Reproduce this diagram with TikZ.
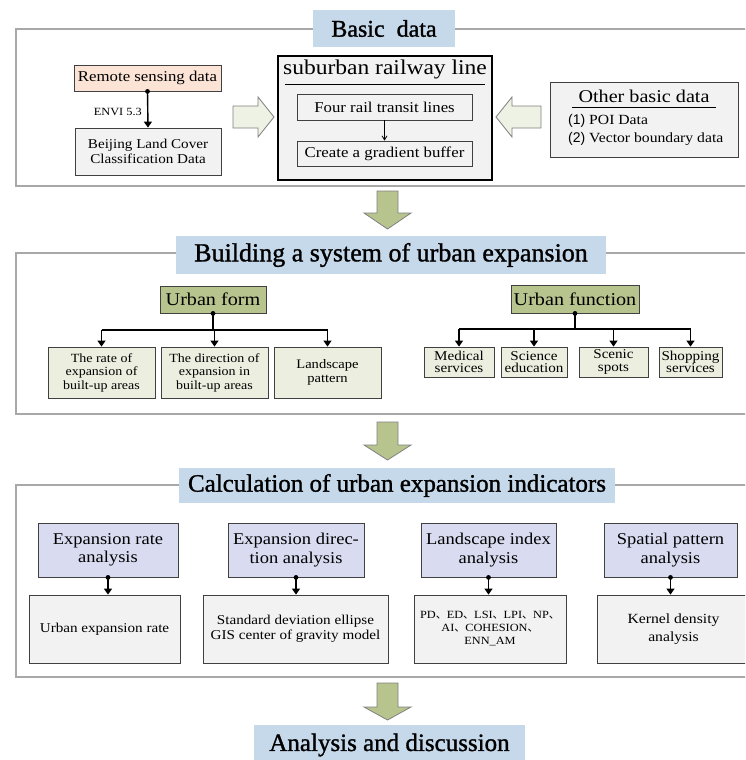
\documentclass[tikz,border=0pt]{standalone}
\usepackage{fontspec}
\setmainfont{Liberation Serif}[FakeStretch=1.12]
\newfontfamily\tfont{Liberation Serif}[FakeBold=1.2]
\newfontfamily\cjk{Noto Sans CJK SC}
\newfontfamily\nsans{Liberation Sans}
\usetikzlibrary{arrows.meta}
\definecolor{titleblue}{HTML}{C6D9EB}
\definecolor{peach}{HTML}{FBE4D5}
\definecolor{boxgray}{HTML}{F2F2F2}
\definecolor{olive}{HTML}{B7C48E}
\definecolor{olivelight}{HTML}{ECEFE0}
\definecolor{hollowfill}{HTML}{EEF2E4}
\definecolor{lavender}{HTML}{D9DCF0}
\definecolor{framegray}{HTML}{A8A8A8}
\definecolor{edge}{HTML}{404040}
\newcommand{\fsz}[2]{\fontsize{#1pt}{#2pt}\selectfont}
\newcommand{\rbox}[7]{\node[#6, minimum width={(#4-#2)*1pt}, minimum height={(#5-#3)*1pt}] (#1) at ({(#2+#4)/2},{(#3+#5)/2}) {#7};}
\begin{document}
\begin{tikzpicture}[x=1pt,y=-1pt,
  frame/.style={draw=framegray, line width=2.6pt},
  titlebox/.style={fill=titleblue, inner sep=0pt, align=center},
  plainbox/.style={draw=edge, line width=0.8pt, fill=boxgray, inner sep=0pt, align=center},
  peachbox/.style={plainbox, fill=peach},
  olivebox/.style={plainbox, fill=olive},
  olivelightbox/.style={plainbox, fill=olivelight},
  lavbox/.style={plainbox, fill=lavender},
  arr/.style={line width=1.4pt, -{Triangle[length=6pt,width=8pt]}},
  thinarr/.style={line width=0.8pt, -{Straight Barb[length=4pt,width=5pt]}},
  treeline/.style={line width=1.4pt},
  bigarrow/.style={draw=gray, line width=0.8pt, fill=olive, line join=miter},
  hollowarrow/.style={draw=gray, line width=0.8pt, fill=hollowfill, line join=miter},
  lbl/.style={inner sep=0pt, align=left}
]
\clip (0,0) rectangle (745,760);
\fill[white] (0,0) rectangle (745,760);

% ---------------- frames ----------------
\draw[frame] (760,29) -| (16,186) -- (760,186);
\draw[frame] (760,253) -| (16,414) -- (760,414);
\draw[frame] (760,485) -| (16,677) -- (760,677);

% ---------------- section 1 ----------------
\rbox{t1}{313}{10}{455}{47}{titlebox, font=\tfont\fsz{24}{26}}{Basic~~data}
\rbox{remote}{74}{65}{221}{91}{peachbox, font=\fsz{15}{17}}{Remote sensing data}
\rbox{beijing}{75}{128}{221}{175}{plainbox, font=\fsz{13.5}{15.5}}{Beijing Land Cover\\Classification Data}
\fill (remote.south) circle (2.4pt);
\draw[arr] (remote.south) -- (beijing.north);
\node[lbl, anchor=east, font=\fsz{11}{13}] (envi) at (142,112) {ENVI 5.3};

\draw[hollowarrow] (233,106) -- (258,106) -- (258,97) -- (274,117) -- (258,137) -- (258,128) -- (233,128) -- cycle;

\rbox{sub}{278}{56}{492}{180}{plainbox, line width=1.1pt, draw=black}{}
\node[inner sep=0pt, font=\fsz{21}{23}] (subtitle) at (385,69) {suburban railway line};
\draw[line width=0.8pt] (285,84) -- (485,84);
\rbox{four}{297}{94}{472}{120}{plainbox, font=\fsz{15}{17}}{Four rail transit lines}
\rbox{create}{297}{141}{472}{166}{plainbox, font=\fsz{15}{17}}{Create a gradient buffer}
\draw[thinarr] (four.south) -- (create.north);

\draw[hollowarrow] (541,106) -- (512,106) -- (512,97) -- (496,117) -- (512,137) -- (512,128) -- (541,128) -- cycle;

\rbox{other}{550}{82}{738}{157}{plainbox}{}
\node[inner sep=0pt, font=\fsz{18}{20}] (othertitle) at (644,96) {Other basic data};
\draw[line width=0.8pt] (572,107) -- (716,107);
\node[lbl, anchor=west, font=\fsz{14}{16}] (poi) at (568,121) {{\nsans (1)} POI Data};
\node[lbl, anchor=west, font=\fsz{14}{16}] (vec) at (568,139) {{\nsans (2)} Vector boundary data};

\draw[bigarrow] (377,191) -- (398,191) -- (398,213) -- (411,213) -- (387.5,229) -- (364,213) -- (377,213) -- cycle;

% ---------------- section 2 ----------------
\rbox{t2}{176}{236}{606}{274}{titlebox, font=\tfont\fsz{26}{28}}{Building a system of urban expansion}
\rbox{uform}{160}{286}{266}{313}{olivebox, font=\fsz{18}{20}}{Urban form}
\rbox{rate}{48}{347}{155}{398}{olivelightbox, font=\fsz{12.5}{13.5}}{The rate of\\expansion of\\built-up areas}
\rbox{dir}{161}{347}{268}{398}{olivelightbox, font=\fsz{12.5}{13.5}}{The direction of\\expansion in\\built-up areas}
\rbox{land}{274}{347}{381}{398}{olivelightbox, font=\fsz{13}{14.5}}{Landscape\\pattern}
\coordinate (lvA) at (0,330);
\coordinate (jA) at (uform.south |- lvA);
\fill (uform.south) circle (2.4pt);
\draw[treeline] (uform.south) -- (jA);
\draw[treeline] (rate.north |- lvA) -- (land.north |- lvA);
\draw[arr] (rate.north |- lvA) -- (rate.north);
\draw[arr] (dir.north |- lvA) -- (dir.north);
\draw[arr] (land.north |- lvA) -- (land.north);

\rbox{ufun}{511}{285}{639}{313}{olivebox, font=\fsz{18}{20}}{Urban function}
\rbox{med}{424}{347}{494}{377}{olivelightbox, font=\fsz{13.5}{12.5}}{Medical\\services}
\rbox{sci}{501}{347}{567}{377}{olivelightbox, font=\fsz{13.5}{12.5}}{Science\\education}
\rbox{scen}{579}{347}{648}{377}{olivelightbox, font=\fsz{13.5}{12.5}}{Scenic\\spots}
\rbox{shop}{659}{347}{722}{377}{olivelightbox, font=\fsz{13.5}{12.5}}{Shopping\\services}
\coordinate (lvB) at (0,329);
\coordinate (jB) at (ufun.south |- lvB);
\fill (ufun.south) circle (2.4pt);
\draw[treeline] (ufun.south) -- (jB);
\draw[treeline] (med.north |- lvB) -- (shop.north |- lvB);
\draw[arr] (med.north |- lvB) -- (med.north);
\draw[arr] (sci.north |- lvB) -- (sci.north);
\draw[arr] (scen.north |- lvB) -- (scen.north);
\draw[arr] (shop.north |- lvB) -- (shop.north);

\draw[bigarrow] (377,422) -- (398,422) -- (398,445) -- (411,445) -- (387.5,460) -- (364,445) -- (377,445) -- cycle;

% ---------------- section 3 ----------------
\rbox{t3}{179}{468}{615}{503}{titlebox, font=\tfont\fsz{25}{27}}{Calculation of urban expansion indicators}
\rbox{er}{38}{523}{178}{577}{lavbox, font=\fsz{16.5}{18.5}}{Expansion rate\\analysis}
\rbox{ed}{228}{523}{364}{577}{lavbox, font=\fsz{16.5}{18.5}}{Expansion direc-\\tion analysis}
\rbox{li}{421}{523}{556}{577}{lavbox, font=\fsz{16.5}{18.5}}{Landscape index\\analysis}
\rbox{sp}{604}{523}{737}{577}{lavbox, font=\fsz{16.5}{18.5}}{Spatial pattern\\analysis}
\rbox{uer}{29}{595}{180}{663}{plainbox, font=\fsz{13.5}{15}}{Urban expansion rate}
\rbox{sd}{203}{595}{388}{663}{plainbox, font=\fsz{13.5}{15}}{Standard deviation ellipse\\GIS center of gravity model}
\rbox{pd}{414}{595}{566}{663}{plainbox, font=\fsz{11}{13}}{PD{\cjk 、}ED{\cjk 、}LSI{\cjk 、}LPI{\cjk 、}NP{\cjk 、}\\AI{\cjk 、}COHESION{\cjk 、}\\ENN\_AM}
\rbox{kd}{597}{595}{750}{663}{plainbox, font=\fsz{14}{18}}{Kernel density\\analysis}
\foreach \a/\b in {er/uer, ed/sd, li/pd, sp/kd}{
  \fill (\a.south) circle (2.4pt);
  \draw[arr] (\a.south) -- (\a.south |- \b.north);
}

\draw[bigarrow] (377,683) -- (398,683) -- (398,707) -- (411,707) -- (387.5,720) -- (364,707) -- (377,707) -- cycle;
\rbox{t4}{254}{725}{525}{765}{titlebox, font=\tfont\fsz{25}{27}}{Analysis and discussion}
\end{tikzpicture}
\end{document}
